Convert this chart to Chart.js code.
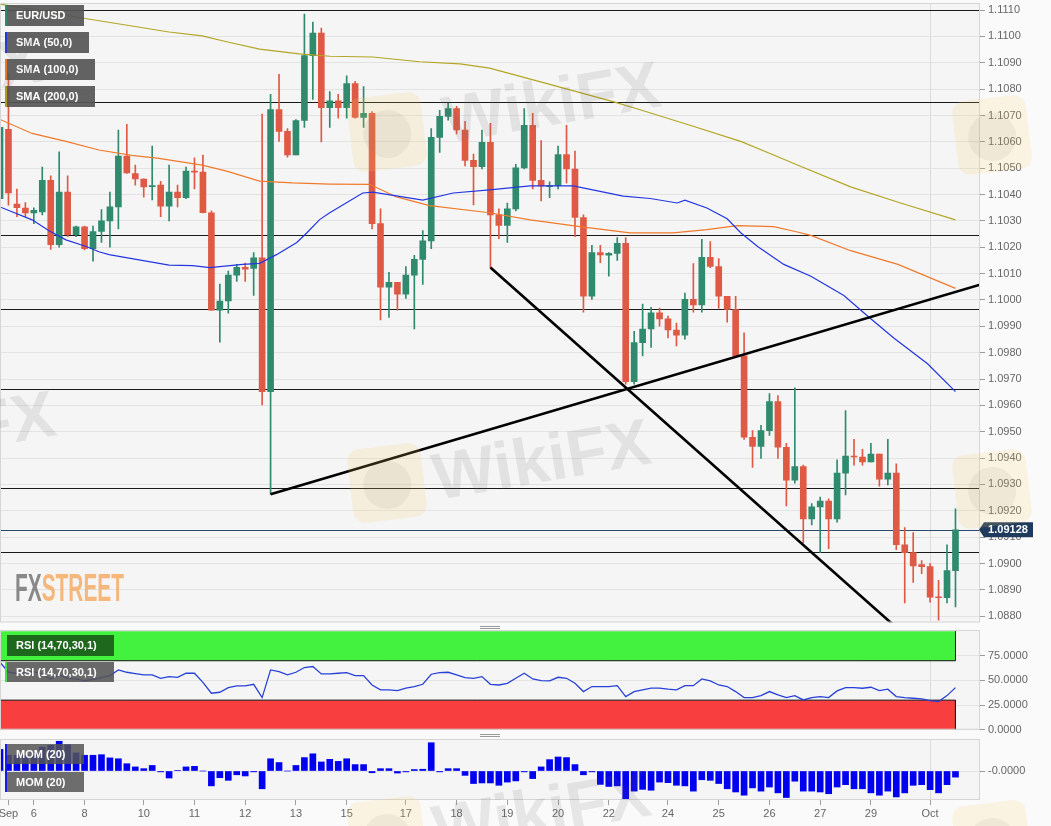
<!DOCTYPE html>
<html lang="en">
<head>
  <meta charset="UTF-8">
  <title>EUR/USD 4H - SMA, RSI, Momentum</title>
  <script src="https://cdn.jsdelivr.net/npm/chart.js"></script>
  <style>
    body { margin: 0; background: #fafafa; overflow: hidden; }
    .pane { position: absolute; left: 0; width: 1051px; }
    #pricePane { top: 0; height: 626px; }
    #rsiPane { top: 626px; height: 108px; }
    #momPane { top: 734px; height: 92px; }
  </style>
</head>
<body>
  <div class="pane" id="pricePane"><canvas id="priceChart"></canvas></div>
  <div class="pane" id="rsiPane"><canvas id="rsiChart"></canvas></div>
  <div class="pane" id="momPane"><canvas id="momChart"></canvas></div>

<script>
// 4h candles, 5 Sep -> 1 Oct (index 0..113)
const opens = [
  1.10384, 1.10648, 1.10364, 1.10349, 1.10330, 1.10334, 1.10454, 1.10210, 1.10409, 1.10248,
  1.10278, 1.10195, 1.10260, 1.10300, 1.10353, 1.10546, 1.10480, 1.10459, 1.10430, 1.10436,
  1.10356, 1.10409, 1.10388, 1.10489, 1.10485, 1.10331, 1.09961, 1.09996, 1.10094, 1.10124,
  1.10120, 1.10160, 1.09652, 1.10723, 1.10640, 1.10550, 1.10681, 1.10927, 1.11013, 1.10730,
  1.10756, 1.10730, 1.10821, 1.10693, 1.10708, 1.10290, 1.10049, 1.10067, 1.10022, 1.10094,
  1.10154, 1.10224, 1.10617, 1.10697, 1.10726, 1.10645, 1.10530, 1.10506, 1.10598, 1.10323,
  1.10283, 1.10346, 1.10501, 1.10663, 1.10454, 1.10430, 1.10434, 1.10552, 1.10497, 1.10313,
  1.10014, 1.10180, 1.10170, 1.10177, 1.10215, 1.09690, 1.09838, 1.09890, 1.09951, 1.09928,
  1.09886, 1.09866, 1.10002, 1.09981, 1.10162, 1.10127, 1.10014, 1.09964, 1.09788, 1.09479,
  1.09444, 1.09504, 1.09614, 1.09441, 1.09316, 1.09368, 1.09169, 1.09215, 1.09237, 1.09169,
  1.09343, 1.09408, 1.09404, 1.09385, 1.09415, 1.09320, 1.09343, 1.09071, 1.09041, 1.08996,
  1.08988, 1.08872, 1.08870, 1.08973
];
const highs = [
  1.10680, 1.10860, 1.10421, 1.10370, 1.10350, 1.10504, 1.10471, 1.10562, 1.10471, 1.10280,
  1.10280, 1.10280, 1.10343, 1.10409, 1.10645, 1.10667, 1.10512, 1.10460, 1.10584, 1.10450,
  1.10512, 1.10436, 1.10504, 1.10539, 1.10550, 1.10338, 1.10060, 1.10110, 1.10135, 1.10140,
  1.10180, 1.10705, 1.10780, 1.10856, 1.10650, 1.10685, 1.11085, 1.11055, 1.11032, 1.10791,
  1.10780, 1.10851, 1.10830, 1.10810, 1.10715, 1.10346, 1.10105, 1.10067, 1.10127, 1.10169,
  1.10263, 1.10650, 1.10720, 1.10746, 1.10735, 1.10678, 1.10554, 1.10645, 1.10670, 1.10346,
  1.10368, 1.10515, 1.10726, 1.10708, 1.10605, 1.10448, 1.10584, 1.10663, 1.10565, 1.10323,
  1.10207, 1.10207, 1.10180, 1.10237, 1.10237, 1.09881, 1.09984, 1.09972, 1.09969, 1.09939,
  1.09912, 1.10026, 1.10138, 1.10230, 1.10222, 1.10157, 1.10014, 1.10014, 1.09875, 1.09504,
  1.09524, 1.09645, 1.09637, 1.09456, 1.09667, 1.09373, 1.09227, 1.09252, 1.09245, 1.09393,
  1.09580, 1.09471, 1.09433, 1.09456, 1.09415, 1.09471, 1.09378, 1.09136, 1.09117, 1.09011,
  1.09000, 1.08936, 1.09071, 1.09207
];
const lows = [
  1.10280, 1.10360, 1.10316, 1.10316, 1.10290, 1.10323, 1.10192, 1.10200, 1.10240, 1.10240,
  1.10190, 1.10147, 1.10218, 1.10200, 1.10270, 1.10480, 1.10436, 1.10390, 1.10380, 1.10316,
  1.10300, 1.10353, 1.10384, 1.10421, 1.10330, 1.09960, 1.09840, 1.09950, 1.10070, 1.10070,
  1.10017, 1.09602, 1.09263, 1.10602, 1.10542, 1.10550, 1.10655, 1.10761, 1.10600, 1.10655,
  1.10690, 1.10690, 1.10690, 1.10655, 1.10270, 1.09924, 1.09934, 1.09961, 1.10006, 1.09890,
  1.10059, 1.10195, 1.10560, 1.10682, 1.10630, 1.10509, 1.10361, 1.10497, 1.10123, 1.10233,
  1.10218, 1.10338, 1.10497, 1.10421, 1.10376, 1.10388, 1.10421, 1.10444, 1.10240, 1.09954,
  1.10002, 1.10142, 1.10090, 1.10150, 1.09680, 1.09680, 1.09788, 1.09820, 1.09901, 1.09856,
  1.09826, 1.09851, 1.09954, 1.09954, 1.10123, 1.09969, 1.09916, 1.09788, 1.09471, 1.09365,
  1.09399, 1.09486, 1.09399, 1.09218, 1.09305, 1.09079, 1.09146, 1.09041, 1.09056, 1.09157,
  1.09260, 1.09373, 1.09373, 1.09385, 1.09293, 1.09298, 1.09052, 1.08850, 1.08928, 1.08961,
  1.08853, 1.08785, 1.08850, 1.08835
];
const closes = [
  1.10655, 1.10406, 1.10350, 1.10330, 1.10340, 1.10454, 1.10210, 1.10409, 1.10248, 1.10278,
  1.10195, 1.10260, 1.10300, 1.10353, 1.10546, 1.10482, 1.10459, 1.10429, 1.10434, 1.10356,
  1.10409, 1.10388, 1.10489, 1.10485, 1.10331, 1.09961, 1.09996, 1.10094, 1.10124, 1.10117,
  1.10160, 1.09652, 1.10723, 1.10640, 1.10550, 1.10681, 1.10927, 1.11013, 1.10730, 1.10756,
  1.10730, 1.10821, 1.10693, 1.10708, 1.10290, 1.10049, 1.10067, 1.10022, 1.10094, 1.10154,
  1.10224, 1.10617, 1.10697, 1.10726, 1.10645, 1.10530, 1.10506, 1.10598, 1.10323, 1.10283,
  1.10346, 1.10501, 1.10663, 1.10454, 1.10433, 1.10434, 1.10552, 1.10497, 1.10313, 1.10014,
  1.10180, 1.10171, 1.10177, 1.10215, 1.09690, 1.09838, 1.09890, 1.09951, 1.09928, 1.09886,
  1.09866, 1.10002, 1.09981, 1.10162, 1.10127, 1.10014, 1.09964, 1.09788, 1.09479, 1.09444,
  1.09504, 1.09614, 1.09441, 1.09316, 1.09368, 1.09169, 1.09215, 1.09237, 1.09169, 1.09343,
  1.09408, 1.09404, 1.09385, 1.09415, 1.09320, 1.09343, 1.09071, 1.09041, 1.08991, 1.08988,
  1.08872, 1.08870, 1.08973, 1.09128
];

// moving averages: [candle index, price]
const sma50 = [
  [0, 1.10353], [3.8, 1.10304], [5.8, 1.10263], [7.8, 1.10228], [10.2, 1.10203], [11.7, 1.10183],
  [12.9, 1.10172], [15.6, 1.10157], [20.0, 1.10132], [22.8, 1.10130], [24.8, 1.10123], [28.7, 1.10135],
  [30.7, 1.10139], [32.7, 1.10172], [35.1, 1.10218], [36.3, 1.10255], [37.8, 1.10305], [39.0, 1.10331],
  [42.9, 1.10406], [44.1, 1.10409], [50.0, 1.10379], [53.6, 1.10406], [57.9, 1.10418], [62.7, 1.10433],
  [67.8, 1.10433], [73.7, 1.10394], [76.9, 1.10385], [80.1, 1.10368], [81.0, 1.10379], [83.6, 1.10349],
  [86.0, 1.10308], [87.6, 1.10255], [89.6, 1.10203], [92.7, 1.10135], [95.9, 1.10090], [99.8, 1.10017],
  [102.6, 1.09939], [105.7, 1.09856], [109.7, 1.09758], [113.0, 1.09652]
];
const sma100 = [
  [0, 1.10685], [3.8, 1.10632], [7.8, 1.10602], [11.7, 1.10569], [15.6, 1.10549], [18.8, 1.10537],
  [23.9, 1.10512], [26.8, 1.10489], [30.7, 1.10451], [34.6, 1.10444], [39.0, 1.10440], [43.7, 1.10439],
  [46.9, 1.10391], [50.8, 1.10358], [57.9, 1.10331], [62.7, 1.10304], [68.6, 1.10278], [74.5, 1.10255],
  [79.6, 1.10255], [83.6, 1.10267], [87.2, 1.10282], [91.5, 1.10278], [94.3, 1.10258], [95.9, 1.10245],
  [100.6, 1.10187], [106.2, 1.10135], [113.0, 1.10044]
];
const sma200 = [
  [0, 1.11123], [9.7, 1.11070], [20.0, 1.11017], [23.9, 1.11002], [26.8, 1.10980], [30.7, 1.10952],
  [35.4, 1.10934], [39.0, 1.10925], [44.1, 1.10922], [49.6, 1.10904], [54.4, 1.10896], [57.9, 1.10880],
  [64.7, 1.10821], [72.5, 1.10753], [75.7, 1.10722], [81.6, 1.10663], [87.6, 1.10602], [91.5, 1.10550],
  [94.3, 1.10512], [100.6, 1.10429], [106.5, 1.10368], [113.0, 1.10304]
];

// drawn trend lines and horizontal levels
const trendUp = [[32, 1.09263], [115.9, 1.10058]];
const trendDown = [[58, 1.10123], [106, 1.08757]];
const levels = [1.11100, 1.10752, 1.10246, 1.09964, 1.09662, 1.09286, 1.09043];

const rsi = [
  68.5, 58.3, 57.3, 58.3, 59.0, 56.3, 51.5, 55.6, 52.2, 51.5,
  49.5, 51.2, 52.9, 54.9, 60.7, 58.3, 57.0, 55.6, 55.6, 52.2,
  53.9, 53.2, 57.3, 57.3, 48.1, 37.0, 38.0, 42.7, 44.4, 44.4,
  46.1, 32.6, 60.7, 59.0, 55.6, 58.3, 63.1, 64.1, 56.6, 56.6,
  57.3, 58.0, 54.9, 54.9, 45.4, 40.4, 40.4, 39.7, 42.1, 43.8,
  46.1, 56.3, 58.0, 58.3, 55.6, 52.9, 52.2, 53.9, 46.1, 45.4,
  47.1, 52.2, 57.3, 51.5, 49.8, 49.5, 53.2, 52.2, 47.1, 38.7,
  43.8, 43.8, 43.8, 44.7, 33.6, 38.7, 40.4, 42.1, 42.1, 41.1,
  40.4, 44.7, 44.7, 51.5, 49.5, 45.4, 43.8, 38.7, 32.6, 32.6,
  34.6, 38.7, 35.3, 32.6, 34.6, 30.2, 32.6, 33.6, 32.6, 39.4,
  42.7, 42.7, 42.1, 43.1, 39.7, 41.1, 33.6, 32.6, 31.9, 31.2,
  29.5, 28.5, 34.6, 42.7
];
const rsiBands = [70, 30];
const rsiTicks = [0, 25, 50, 75];

const mom = [
  0.0074, 0.0054, 0.0054, 0.0054, 0.0065, 0.0082, 0.0088, 0.0102, 0.0090, 0.0062,
  0.0054, 0.0054, 0.0056, 0.0045, 0.0042, 0.0025, 0.0014, 0.0008, 0.0019, -0.0003,
  -0.0024, 0.0002, 0.0014, 0.0016, 0.0000, -0.0051, -0.0023, -0.0032, -0.0013, -0.0017,
  -0.0003, -0.0061, 0.0042, 0.0029, 0.0000, 0.0019, 0.0046, 0.0059, 0.0031, 0.0040,
  0.0033, 0.0042, 0.0022, 0.0022, -0.0006, 0.0008, 0.0008, -0.0007, -0.0003, 0.0005,
  0.0006, 0.0097, -0.0003, 0.0008, 0.0008, -0.0015, -0.0043, -0.0041, -0.0041, -0.0049,
  -0.0038, -0.0034, -0.0003, -0.0026, 0.0014, 0.0039, 0.0048, 0.0046, 0.0022, -0.0013,
  -0.0003, -0.0046, -0.0053, -0.0051, -0.0095, -0.0069, -0.0063, -0.0066, -0.0038, -0.0040,
  -0.0049, -0.0051, -0.0069, -0.0030, -0.0032, -0.0043, -0.0061, -0.0072, -0.0083, -0.0058,
  -0.0069, -0.0055, -0.0075, -0.0091, -0.0035, -0.0069, -0.0069, -0.0072, -0.0078, -0.0055,
  -0.0047, -0.0061, -0.0061, -0.0075, -0.0083, -0.0069, -0.0089, -0.0075, -0.0049, -0.0047,
  -0.0064, -0.0075, -0.0047, -0.0021
];

const priceTicks = [
  1.088, 1.089, 1.090, 1.091, 1.092, 1.093, 1.094, 1.095, 1.096, 1.097, 1.098, 1.099,
  1.100, 1.101, 1.102, 1.103, 1.104, 1.105, 1.106, 1.107, 1.108, 1.109, 1.110, 1.111
];
const dayTicks = [1, 4, 10, 17, 23, 29, 35, 41, 48, 54, 60, 66, 72, 79, 85, 91, 97, 103, 110];
const dayLabels = ['Sep', '6', '8', '10', '11', '12', '13', '15', '17', '18', '19', '20', '22', '24', '25', '26', '27', '29', 'Oct'];

// ---- look ----
const FONT = '"Liberation Sans", Arial, sans-serif';
Chart.defaults.font.family = FONT;
Chart.defaults.font.size = 11;
Chart.defaults.color = '#666';

const UP = '#2f8a6e', DOWN = '#df5a45';
const X_MIN = 0, X_MAX = 115.9;
const AXIS_W = 71;
const OCT = dayTicks[dayLabels.indexOf('Oct')];
const idx = opens.map((_, i) => i);
const last = idx.length - 1;
const candleColors = idx.map(i => closes[i] >= opens[i] ? UP : DOWN);
const pts = arr => arr.map(([x, y]) => ({ x, y }));

const frame = {
  id: 'frame',
  beforeDraw(chart) {
    const { ctx, chartArea: a } = chart;
    ctx.save();
    ctx.fillStyle = '#f5f5f5';
    ctx.fillRect(a.left, a.top, a.right - a.left, a.bottom - a.top);
    ctx.restore();
  },
  afterDraw(chart) {
    const { ctx, chartArea: a } = chart;
    ctx.save();
    ctx.strokeStyle = '#d5d5d5';
    ctx.lineWidth = 1;
    ctx.strokeRect(a.left + 0.5, a.top + 0.5, a.right - a.left - 1, a.bottom - a.top - 1);
    ctx.restore();
  }
};

function tagBox(ctx, x, y, w, h, text, fill, stripe) {
  ctx.fillStyle = fill;
  ctx.fillRect(x, y, w, h);
  if (stripe) {
    ctx.fillStyle = stripe;
    ctx.fillRect(x - 2, y, 2, h);
  }
  ctx.fillStyle = '#fff';
  ctx.font = 'bold 11px ' + FONT;
  ctx.textAlign = 'left';
  ctx.textBaseline = 'middle';
  ctx.fillText(text, x + 9, y + h / 2 + 0.5);
}

function handle(ctx, y) {
  ctx.strokeStyle = '#9a9a9a';
  ctx.lineWidth = 1;
  ctx.beginPath();
  ctx.moveTo(480, y + 0.5); ctx.lineTo(500, y + 0.5);
  ctx.moveTo(480, y + 2.5); ctx.lineTo(500, y + 2.5);
  ctx.stroke();
}

// WikiFX overlay of the source screenshot
function drawWatermarks(ctx, pageTop) {
  ctx.save();
  ctx.translate(0, -pageTop);
  [[350, 95], [350, 446], [350, 799], [955, 98], [955, 452], [955, 803]].forEach(([x, y]) => {
    ctx.save();
    ctx.translate(x + 37, y + 37);
    ctx.rotate(-0.12);
    ctx.fillStyle = 'rgba(247, 206, 100, 0.17)';
    ctx.beginPath();
    ctx.roundRect(-37, -37, 74, 74, 12);
    ctx.fill();
    ctx.fillStyle = 'rgba(110, 100, 100, 0.08)';
    ctx.beginPath();
    ctx.arc(0, 2, 24, 0, Math.PI * 2);
    ctx.fill();
    ctx.restore();
  });
  ctx.font = 'bold 66px ' + FONT;
  ctx.fillStyle = 'rgba(110, 100, 100, 0.13)';
  ctx.textAlign = 'left';
  ctx.textBaseline = 'alphabetic';
  [[447, 143], [437, 500], [437, 852], [-172, 118], [-158, 472]].forEach(([x, y]) => {
    ctx.save();
    ctx.translate(x, y);
    ctx.rotate(-0.17);
    ctx.fillText('WikiFX', 0, 0);
    ctx.restore();
  });
  ctx.restore();
}

const wikiMark = {
  id: 'wikiMark',
  afterDraw(chart, args, opts) { drawWatermarks(chart.ctx, opts.top || 0); }
};

const priceOverlay = {
  id: 'priceOverlay',
  beforeDatasetsDraw(chart) {
    const { ctx, chartArea: a, scales: { y } } = chart;
    ctx.save();
    ctx.lineWidth = 1;
    ctx.strokeStyle = '#1a1a1a';
    levels.forEach(v => {
      const py = Math.round(y.getPixelForValue(v)) + 0.5;
      ctx.beginPath(); ctx.moveTo(a.left, py); ctx.lineTo(a.right, py); ctx.stroke();
    });
    const cy = Math.round(y.getPixelForValue(closes[last])) + 0.5;
    ctx.strokeStyle = '#2b4870';
    ctx.beginPath(); ctx.moveTo(a.left, cy); ctx.lineTo(a.right, cy); ctx.stroke();
    ctx.restore();
  },
  afterDraw(chart) {
    const { ctx, chartArea: a, scales: { y } } = chart;
    ctx.save();
    // series tags
    tagBox(ctx, 7, 5, 77, 21, 'EUR/USD', 'rgba(85,85,85,0.92)', UP);
    tagBox(ctx, 7, 32, 82, 21, 'SMA (50,0)', 'rgba(85,85,85,0.92)', '#2336e0');
    tagBox(ctx, 7, 59, 88, 21, 'SMA (100,0)', 'rgba(85,85,85,0.92)', '#e8782a');
    tagBox(ctx, 7, 86, 88, 21, 'SMA (200,0)', 'rgba(85,85,85,0.92)', '#a99d22');
    // last price marker
    const cy = y.getPixelForValue(closes[last]);
    ctx.fillStyle = '#1e3a5c';
    ctx.beginPath();
    ctx.moveTo(a.right - 1, cy);
    ctx.lineTo(a.right + 4, cy - 7.5);
    ctx.lineTo(1033, cy - 7.5);
    ctx.lineTo(1033, cy + 7.5);
    ctx.lineTo(a.right + 4, cy + 7.5);
    ctx.closePath();
    ctx.fill();
    ctx.fillStyle = '#fff';
    ctx.font = 'bold 11px ' + FONT;
    ctx.textAlign = 'center';
    ctx.textBaseline = 'middle';
    ctx.fillText(closes[last].toFixed(5), 1008, cy + 0.5);
    // FXStreet mark
    ctx.font = 'bold 38px ' + FONT;
    ctx.textAlign = 'left';
    ctx.textBaseline = 'alphabetic';
    const wFX = ctx.measureText('FX').width;
    const wAll = ctx.measureText('FXSTREET').width;
    ctx.translate(15, 601);
    ctx.scale(109 / wAll, 1);
    ctx.fillStyle = 'rgba(125,125,125,0.9)';
    ctx.fillText('FX', 0, 0);
    ctx.fillStyle = 'rgba(246,168,95,0.8)';
    ctx.fillText('STREET', wFX, 0);
    ctx.restore();
  }
};

function gridOnlyX() {
  return {
    type: 'linear', min: X_MIN, max: X_MAX, offset: false,
    afterBuildTicks: s => { s.ticks = [{ value: OCT }]; },
    afterFit: s => { s.height = 0; s.paddingLeft = 0; s.paddingRight = 0; },
    ticks: { display: false },
    grid: { offset: false, drawTicks: false, color: '#dcdcdc' },
    border: { display: false }
  };
}

function rightAxis(min, max, tickValues, label) {
  return {
    type: 'linear', position: 'right', min, max, beginAtZero: false,
    afterBuildTicks: s => { s.ticks = tickValues.map(v => ({ value: v })); },
    afterFit: s => { s.width = AXIS_W; s.paddingTop = 0; s.paddingBottom = 0; },
    ticks: { padding: 3, color: '#666', callback: label },
    grid: { color: '#e3e3e3', tickLength: 5, tickColor: '#9a9a9a' },
    border: { display: false }
  };
}

const common = {
  responsive: true,
  maintainAspectRatio: false,
  animation: false,
  events: []
};

// ---- price panel ----
new Chart(document.getElementById('priceChart'), {
  type: 'bar',
  data: {
    datasets: [
      { type: 'line', data: pts(trendUp), borderColor: '#000', borderWidth: 2.6, pointRadius: 0, order: 0 },
      { type: 'line', data: pts(trendDown), borderColor: '#000', borderWidth: 2.6, pointRadius: 0, order: 0 },
      { type: 'line', data: pts(sma50), borderColor: '#2336e0', borderWidth: 1.2, pointRadius: 0, order: 1 },
      { type: 'line', data: pts(sma100), borderColor: '#f07a2c', borderWidth: 1.2, pointRadius: 0, order: 1 },
      { type: 'line', data: pts(sma200), borderColor: '#b3a626', borderWidth: 1.2, pointRadius: 0, order: 1 },
      {
        data: idx.map(i => ({ x: i, y: [opens[i], closes[i]] })),
        backgroundColor: candleColors, barThickness: 6, minBarLength: 1, grouped: false, order: 2
      },
      {
        data: idx.map(i => ({ x: i, y: [lows[i], highs[i]] })),
        backgroundColor: candleColors, barThickness: 1, grouped: false, order: 3
      }
    ]
  },
  options: {
    ...common,
    layout: { padding: { top: 3, bottom: 3.5, left: 0, right: 0 } },
    plugins: { legend: { display: false }, tooltip: { enabled: false }, wikiMark: { top: 0 } },
    scales: {
      x: gridOnlyX(),
      y: rightAxis(1.08776, 1.11127, priceTicks, v => v.toFixed(4))
    }
  },
  plugins: [frame, priceOverlay, wikiMark]
});

// ---- RSI panel ----
new Chart(document.getElementById('rsiChart'), {
  type: 'line',
  data: {
    datasets: [
      {
        data: idx.map(i => ({ x: i, y: rsi[i] })),
        borderColor: '#2741d6', borderWidth: 1.3, pointRadius: 0, order: 0
      },
      {
        data: [{ x: X_MIN, y: rsiBands[0] }, { x: last, y: rsiBands[0] }, { x: last, y: 100 }],
        borderColor: '#111', borderWidth: 1, pointRadius: 0,
        fill: { value: 100 }, backgroundColor: '#43f13f', order: 1
      },
      {
        data: [{ x: X_MIN, y: rsiBands[1] }, { x: last, y: rsiBands[1] }, { x: last, y: 0 }],
        borderColor: '#111', borderWidth: 1, pointRadius: 0,
        fill: { value: 0 }, backgroundColor: '#f83e3e', order: 1
      }
    ]
  },
  options: {
    ...common,
    layout: { padding: { top: 4, bottom: 4.3, left: 0, right: 0 } },
    plugins: { legend: { display: false }, tooltip: { enabled: false }, wikiMark: { top: 626 } },
    scales: {
      x: gridOnlyX(),
      y: rightAxis(0, 101.2, rsiTicks, v => v.toFixed(4))
    }
  },
  plugins: [frame, {
    id: 'rsiTags',
    afterDraw(chart) {
      const ctx = chart.ctx;
      ctx.save();
      handle(ctx, 0);
      tagBox(ctx, 7, 9, 107, 21, 'RSI (14,70,30,1)', 'rgba(26,92,26,0.92)');
      tagBox(ctx, 7, 36, 107, 20, 'RSI (14,70,30,1)', 'rgba(85,85,85,0.88)', '#45de45');
      ctx.restore();
    }
  }, wikiMark]
});

// ---- momentum panel ----
new Chart(document.getElementById('momChart'), {
  type: 'bar',
  data: {
    datasets: [{
      data: idx.map(i => ({ x: i, y: mom[i] })),
      backgroundColor: '#0000f0', barThickness: 6
    }]
  },
  options: {
    ...common,
    layout: { padding: { top: 5, bottom: 0, left: 0, right: 0 } },
    plugins: { legend: { display: false }, tooltip: { enabled: false }, wikiMark: { top: 734 } },
    scales: {
      x: {
        type: 'linear', min: X_MIN, max: X_MAX, offset: false,
        afterBuildTicks: s => { s.ticks = dayTicks.map(v => ({ value: v })); },
        afterFit: s => { s.height = 26; s.paddingLeft = 0; s.paddingRight = 0; },
        ticks: { autoSkip: false, maxRotation: 0, padding: 2, color: '#666', callback: (v, i) => dayLabels[i] },
        grid: {
          offset: false, tickLength: 5,
          color: c => (c.tick && c.tick.value === OCT) ? '#dcdcdc' : 'rgba(0,0,0,0)',
          tickColor: '#a0a0a0'
        },
        border: { display: false }
      },
      y: rightAxis(-0.00995, 0.01098, [0], () => '-0.0000')
    }
  },
  plugins: [frame, {
    id: 'momTags',
    afterDraw(chart) {
      const ctx = chart.ctx;
      ctx.save();
      handle(ctx, 0);
      ctx.fillStyle = '#1a1ae6';
      ctx.fillRect(5, 10, 2, 48);
      tagBox(ctx, 7, 10, 77, 20, 'MOM (20)', 'rgba(85,85,85,0.85)');
      tagBox(ctx, 7, 38, 77, 20, 'MOM (20)', 'rgba(85,85,85,0.85)');
      ctx.restore();
    }
  }, wikiMark]
});
</script>
</body>
</html>
